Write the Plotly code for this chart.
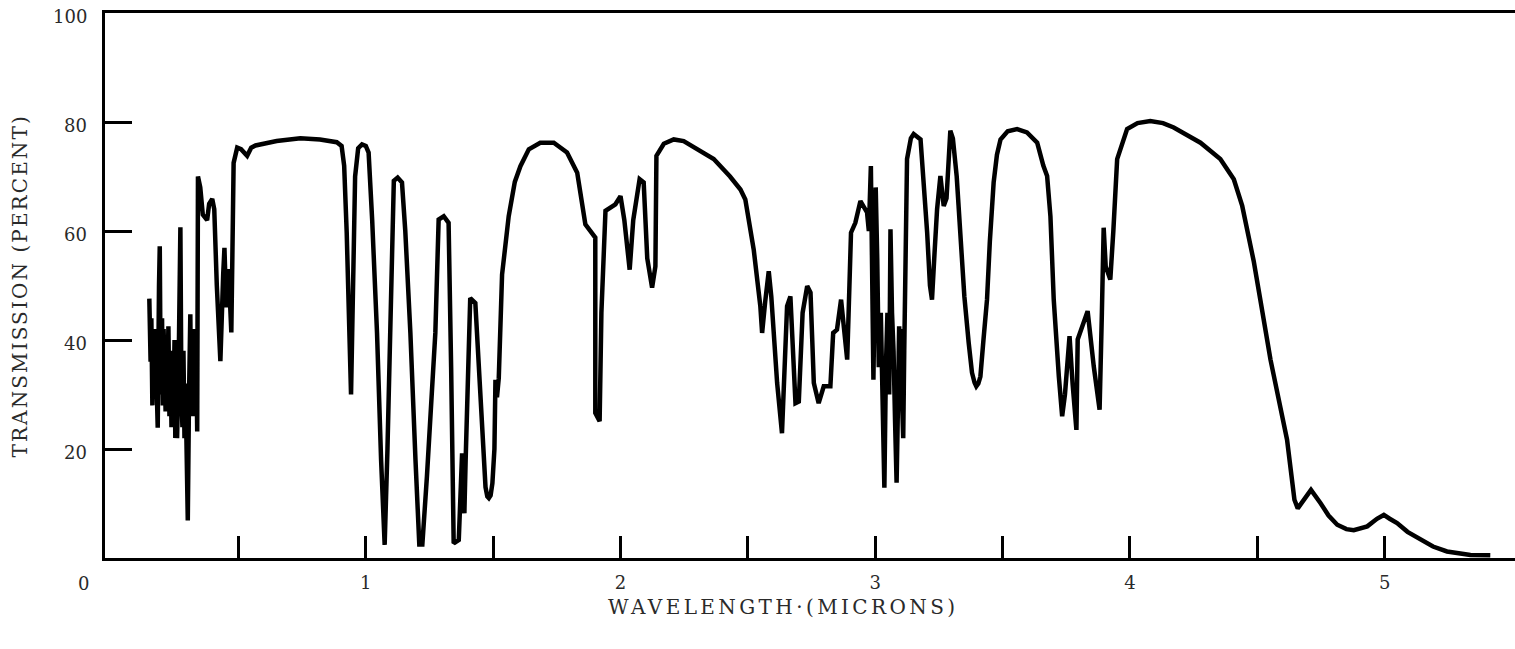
import plotly.graph_objects as go

# Atmospheric transmission spectrum
wavelength_um = [
    0.150, 0.155, 0.158, 0.162, 0.165, 0.169, 0.173, 0.178, 0.183, 0.188, 0.191, 0.194, 0.197,
    0.200, 0.203, 0.206, 0.210, 0.214, 0.218, 0.220, 0.225, 0.229, 0.233, 0.237, 0.241, 0.245,
    0.249, 0.252, 0.256, 0.259, 0.265, 0.272, 0.276, 0.280, 0.284, 0.288, 0.292, 0.297, 0.301,
    0.306, 0.311, 0.314, 0.318, 0.322, 0.325, 0.330, 0.334, 0.338, 0.341,
    0.350, 0.360, 0.377, 0.385, 0.397, 0.405, 0.415, 0.429, 0.440, 0.445, 0.452, 0.458, 0.464,
    0.472, 0.478, 0.481, 0.495, 0.510, 0.534, 0.550, 0.567, 0.650, 0.743, 0.820, 0.886, 0.905,
    0.915, 0.925, 0.942, 0.950, 0.958, 0.970, 0.985, 1.000, 1.011, 1.025, 1.044, 1.060, 1.074,
    1.085, 1.097, 1.110, 1.125, 1.142, 1.155, 1.175, 1.195, 1.210, 1.222, 1.240, 1.273, 1.286,
    1.306, 1.325, 1.335, 1.345, 1.365, 1.372, 1.378, 1.383, 1.387, 1.392, 1.400, 1.410, 1.430,
    1.445, 1.456, 1.470, 1.477, 1.483, 1.490, 1.497, 1.505, 1.509, 1.515, 1.522, 1.535, 1.561,
    1.585, 1.607, 1.640, 1.685, 1.738, 1.790, 1.830, 1.862, 1.901, 1.901, 1.918, 1.925, 1.941,
    1.960, 1.980, 2.000, 2.015, 2.036, 2.050, 2.075, 2.091, 2.105, 2.124, 2.137, 2.141, 2.170,
    2.209, 2.248, 2.300, 2.366, 2.430, 2.471, 2.490, 2.523, 2.549, 2.556, 2.568, 2.582, 2.592,
    2.615, 2.634, 2.645, 2.654, 2.667, 2.677, 2.687, 2.700, 2.715, 2.733, 2.746, 2.759, 2.778,
    2.798, 2.824, 2.835, 2.850, 2.866, 2.878, 2.890, 2.896, 2.905, 2.922, 2.942, 2.968, 2.975,
    2.983, 2.990, 2.993, 2.998, 3.002, 3.008, 3.014, 3.022, 3.030, 3.036, 3.042, 3.048, 3.055,
    3.060, 3.066, 3.072, 3.078, 3.084, 3.090, 3.094, 3.098, 3.102, 3.106, 3.110, 3.114, 3.120,
    3.125, 3.140, 3.151, 3.178, 3.190,
    3.204, 3.215, 3.223, 3.233, 3.243, 3.256, 3.262, 3.269, 3.280, 3.295, 3.305, 3.320, 3.334,
    3.350, 3.367, 3.380, 3.390, 3.397, 3.405, 3.413, 3.425, 3.439, 3.450, 3.465, 3.478, 3.492,
    3.520, 3.557, 3.596, 3.636, 3.660, 3.675, 3.688, 3.701, 3.721, 3.734, 3.745, 3.763, 3.775,
    3.790, 3.795, 3.812, 3.834, 3.858, 3.881, 3.890, 3.897, 3.905, 3.923, 3.935, 3.950, 3.989,
    4.030, 4.080, 4.130, 4.172, 4.205, 4.277, 4.355, 4.408, 4.441, 4.486, 4.512, 4.552, 4.617,
    4.646, 4.659, 4.680, 4.711, 4.748, 4.780, 4.814, 4.850, 4.879, 4.932, 4.970, 4.997, 5.020,
    5.049, 5.090, 5.141, 5.190, 5.245, 5.300, 5.337, 5.415,
]
transmission_pct = [
    47.6, 36.0, 44.0, 28.0, 40.0, 30.0, 42.0, 26.0, 23.9, 50.0, 57.2, 36.0, 30.0,
    44.0, 28.0, 42.0, 33.0, 26.9, 38.0, 30.0, 42.5, 26.0, 38.0, 24.0, 36.0, 28.0,
    40.0, 22.0, 34.0, 22.0, 35.0, 60.7, 30.0, 24.0, 38.0, 22.0, 32.0, 14.0, 6.9,
    30.0, 44.7, 30.0, 40.0, 26.0, 42.0, 30.0, 40.0, 23.2, 70.0,
    68.0, 63.0, 62.0, 65.0, 65.9, 64.0, 50.0, 36.1, 52.0, 56.9, 46.0, 53.0, 50.0,
    41.4, 62.0, 72.5, 75.3, 75.0, 73.8, 75.3, 75.7, 76.5, 77.0, 76.8, 76.3, 75.6,
    72.0, 59.7, 30.0, 50.0, 70.0, 75.2, 75.9, 75.6, 74.4, 62.0, 41.3, 18.0, 2.4,
    20.0, 47.4, 69.2, 69.8, 68.9, 60.0, 41.3, 18.0, 2.5, 2.5, 15.0, 41.3, 62.1,
    62.7, 61.5, 35.0, 2.7, 3.3, 10.0, 19.2, 14.0, 8.2, 18.0, 35.0, 47.7, 46.8,
    35.0, 22.9, 13.0, 11.3, 11.0, 11.5, 13.7, 20.0, 32.7, 29.5, 33.0, 52.0, 62.7,
    69.0, 71.9, 75.0, 76.2, 76.2, 74.4, 70.7, 61.2, 58.8, 26.6, 25.1, 45.0, 63.7,
    64.3, 64.9, 66.4, 62.0, 52.9, 62.0, 69.5, 68.9, 55.0, 49.6, 53.5, 73.8, 76.0,
    76.8, 76.5, 75.0, 73.2, 70.0, 67.6, 65.8, 56.6, 46.2, 41.3, 47.0, 52.6, 48.0,
    32.1, 22.9, 35.0, 46.2, 48.0, 38.0, 28.4, 28.7, 45.0, 49.9, 48.7, 32.1, 28.4,
    31.5, 31.5, 41.3, 41.9, 47.4, 42.0, 36.4, 45.6, 59.7, 61.5, 65.5, 63.4, 60.0,
    71.9, 40.0, 32.7, 50.0, 68.0, 55.0, 35.0, 45.0, 20.0, 12.9, 35.0, 45.0, 30.0,
    60.3, 45.0, 38.0, 25.0, 13.8, 30.0, 42.5, 38.0, 42.0, 28.0, 22.0, 38.0, 62.0,
    73.2, 77.0, 77.8, 76.8, 70.0,
    59.7, 50.0, 47.4, 56.0, 64.0, 70.1, 68.0, 64.6, 66.0, 78.4, 77.0, 70.0, 59.7,
    48.0, 39.5, 34.0, 32.2, 31.5, 32.0, 33.3, 40.0, 47.4, 58.0, 68.9, 74.0, 76.8,
    78.3, 78.7, 78.1, 76.2, 72.0, 70.1, 62.7, 47.4, 33.3, 26.0, 30.0, 40.7, 32.0,
    23.5, 40.1, 42.5, 45.3, 35.2, 27.2, 45.0, 60.6, 53.5, 51.1, 60.0, 73.2, 78.7,
    79.8, 80.2, 79.8, 79.0, 78.1, 76.2, 73.2, 69.5, 64.6, 54.5, 47.4, 36.4, 21.7,
    10.7, 9.1, 10.5, 12.5, 10.1, 7.8, 6.1, 5.3, 5.1, 5.8, 7.2, 7.9, 7.2,
    6.4, 4.8, 3.3, 2.1, 1.2, 0.7, 0.55, 0.5,
]

x_tick_values = [0.5, 1, 1.5, 2, 2.5, 3, 3.5, 4, 4.5, 5]
x_tick_labels = ["", "1", "", "2", "", "3", "", "4", "", "5"]
y_tick_values = [20, 40, 60, 80, 100]
y_tick_labels = ["20", "40", "60", "80", "100"]

FONT = "DejaVu Serif"
TXT = "#2a2a2a"

fig = go.Figure()
fig.add_trace(go.Scatter(
    x=wavelength_um, y=transmission_pct, mode="lines",
    line=dict(color="black", width=4.5), showlegend=False, hoverinfo="skip",
))

# y tick labels placed a fixed distance left of the axis line
y_label_annotations = [
    dict(text=lab, xref="paper", x=-0.0113, yref="y", y=val, yshift=-3,
         showarrow=False, font=dict(family=FONT, size=18, color=TXT),
         xanchor="right", yanchor="middle")
    for val, lab in zip(y_tick_values, y_tick_labels)
]

fig.update_layout(
    width=1515, height=649,
    margin=dict(l=105, r=0, t=13, b=91),
    paper_bgcolor="white", plot_bgcolor="white",
    showlegend=False,
    xaxis=dict(
        range=[-0.024, 5.512], showgrid=False, zeroline=False,
        showline=True, linecolor="black", linewidth=2.5, mirror=True,
        ticks="inside", ticklen=22, tickwidth=2.5, tickcolor="black",
        tickvals=x_tick_values, ticktext=x_tick_labels,
        tickfont=dict(family=FONT, size=18, color=TXT),
        ticklabelstandoff=7,
    ),
    yaxis=dict(
        range=[0, 100], showgrid=False, zeroline=False,
        showline=True, linecolor="black", linewidth=2.5,
        ticks="inside", ticklen=27, tickwidth=2.5, tickcolor="black",
        tickvals=y_tick_values, showticklabels=False,
    ),
    annotations=y_label_annotations + [
        dict(text="0", xref="paper", x=-0.0156, yref="paper", y=-0.046,
             showarrow=False, font=dict(family=FONT, size=18, color=TXT),
             xanchor="center", yanchor="middle"),
        dict(text='<span style="letter-spacing:3.4px">WAVELENGTH·(MICRONS)</span>',
             xref="paper", x=0.481, yref="paper", y=-0.09,
             showarrow=False, font=dict(family=FONT, size=20, color=TXT),
             xanchor="center", yanchor="middle"),
        dict(text='<span style="letter-spacing:2.1px">TRANSMISSION (PERCENT)</span>',
             xref="paper", x=-0.0603, yref="paper", y=0.5, textangle=-90,
             showarrow=False, font=dict(family=FONT, size=20, color=TXT),
             xanchor="center", yanchor="middle"),
    ],
)

fig.write_html("out.html")
